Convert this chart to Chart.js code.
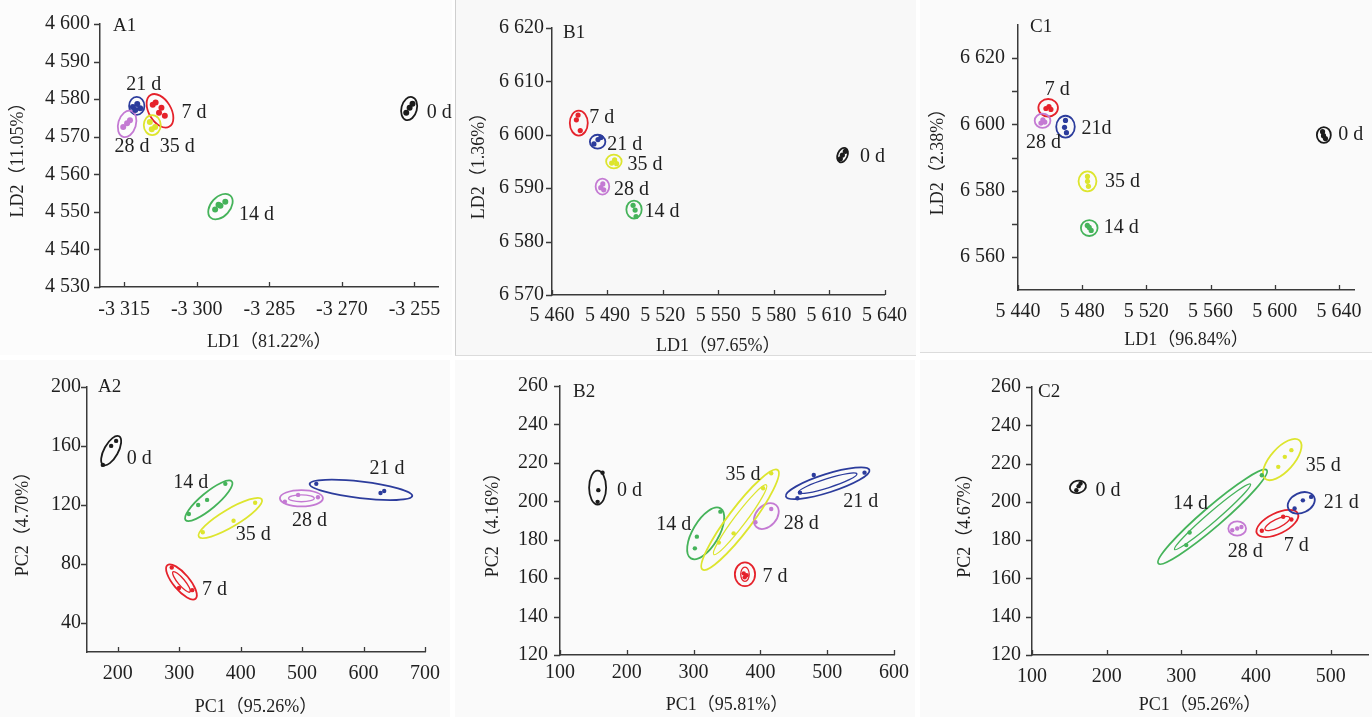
<!DOCTYPE html>
<html>
<head>
<meta charset="utf-8">
<script src="https://cdn.jsdelivr.net/npm/chart.js@4.4.0/dist/chart.umd.min.js"></script>
<style>
  html, body { margin: 0; padding: 0; background: #fff; }
  body { width: 1372px; height: 717px; position: relative; overflow: hidden; }
  .tile { position: absolute; background: #fafafa; }
  .tile canvas { display: block; }
</style>
</head>
<body>
<script>
// groups (storage days) and their colours
const groups = ['0 d', '7 d', '14 d', '21 d', '28 d', '35 d'];
const groupColors = ['#1b1b1b', '#e5222b', '#45b35a', '#2c3c9c', '#c47ad3', '#dde52e'];

// ---- A1 (LDA) ----
const a1Points = [
  [[-3256.7, 4576.4], [-3256.0, 4577.7], [-3255.4, 4578.8]],
  [[-3308.5, 4579.1], [-3307.3, 4577.7], [-3306.6, 4575.6], [-3307.8, 4576.4], [-3309.1, 4578.5]],
  [[-3296.2, 4550.6], [-3295.1, 4551.6], [-3294.1, 4552.7], [-3295.5, 4551.9]],
  [[-3313.2, 4577.9], [-3312.3, 4578.7], [-3311.7, 4577.6], [-3312.7, 4577.1]],
  [[-3315.2, 4572.6], [-3314.4, 4573.6], [-3313.8, 4574.4]],
  [[-3309.7, 4573.9], [-3308.6, 4572.6], [-3309.3, 4572.0]]
];
// ellipse: centre x, centre y, major half-axis dx, dy, minor/major ratio, inner ring factor
const a1Ellipses = [
  [-3256.1, 4577.5, 0.61, 3.06, 0.65, 0],
  [-3307.6, 4576.9, 1.95, -4.2, 0.6, 0],
  [-3295.1, 4551.4, 2.05, 2.93, 0.65, 0],
  [-3312.4, 4578.2, 0, 2.4, 0.85, 0],
  [-3314.4, 4573.4, 0.82, 3.46, 0.65, 0],
  [-3309.2, 4573.1, 0, 2.66, 0.85, 0]
];
const a1XTicks = [-3315, -3300, -3285, -3270, -3255];
const a1YTicks = [4530, 4540, 4550, 4560, 4570, 4580, 4590, 4600];

// ---- B1 (LDA) ----
const b1Points = [
  [[5616.1, 6595.5], [5617.2, 6596.2], [5618.8, 6596.9]],
  [[5474.1, 6603.7], [5473.2, 6602.8], [5475.3, 6600.8]],
  [[5503.9, 6586.8], [5505.0, 6585.9], [5505.5, 6584.7]],
  [[5482.7, 6598.3], [5484.9, 6599.1], [5486.5, 6599.5]],
  [[5486.4, 6590.1], [5487.5, 6590.8], [5488.0, 6589.7]],
  [[5492.3, 6594.7], [5493.9, 6595.3], [5495.0, 6594.6]]
];
const b1Ellipses = [
  [5617.3, 6596.2, 1.6, 1.31, 0.65, 0],
  [5474.5, 6602.2, 0, 2.34, 0.72, 0],
  [5504.4, 6586.0, 0, 1.69, 0.85, 0],
  [5484.7, 6598.7, 4.2, 0, 0.9, 0],
  [5487.3, 6590.3, 0, 1.5, 0.85, 0],
  [5493.5, 6595.0, 4.2, 0, 0.88, 0]
];
const b1XTicks = [5460, 5490, 5520, 5550, 5580, 5610, 5640];
const b1YTicks = [6570, 6580, 6590, 6600, 6610, 6620];

// ---- C1 (LDA) ----
const c1Points = [
  [[5629.8, 6597.8], [5630.4, 6596.6], [5631.6, 6595.7]],
  [[5457.4, 6604.8], [5459.3, 6605.4], [5460.5, 6604.5]],
  [[5483.2, 6569.5], [5484.4, 6568.9], [5485.6, 6568.0]],
  [[5469.6, 6601.2], [5469.0, 6599.1], [5470.2, 6597.5]],
  [[5454.3, 6600.4], [5455.5, 6601.4], [5456.7, 6600.7]],
  [[5483.3, 6584.3], [5483.3, 6582.8], [5483.9, 6581.3]]
];
const c1Ellipses = [
  [5630.6, 6596.8, 0, 2.4, 0.88, 0],
  [5458.8, 6605.0, 6.1, 0, 0.9, 0],
  [5484.4, 6568.7, 5.2, 0, 0.95, 0],
  [5469.6, 6599.3, 0, 3.3, 0.85, 0],
  [5455.3, 6601.1, 4.9, 0, 0.9, 0],
  [5483.3, 6582.8, 0, 3.0, 0.9, 0]
];
const c1XTicks = [5440, 5480, 5520, 5560, 5600, 5640];
const c1YTicks = [6560, 6570, 6580, 6590, 6600, 6610, 6620];
const c1Names = ['0 d', '7 d', '14 d', '21d', '28 d', '35 d'];

// ---- A2 (PCA) ----
const a2Points = [
  [[175.8, 147.1], [189.3, 160.0], [197.4, 163.4]],
  [[287.9, 77.4], [299.7, 63.5], [321.2, 62.0]],
  [[315.8, 113.7], [330.9, 119.9], [345.4, 123.3], [375.1, 134.2]],
  [[523.1, 134.2], [627.6, 128.0], [633.6, 129.4]],
  [[472.0, 122.1], [493.5, 126.7], [525.8, 125.1]],
  [[338.4, 101.3], [388.5, 109.2], [423.6, 121.4]]
];
const a2Ellipses = [
  [189.3, 156.8, 12.9, 9.7, 0.43, 0],
  [303.7, 67.6, 22.9, -11.4, 0.37, 0.6],
  [348.1, 122.7, 37.6, 13.1, 0.27, 0],
  [595.8, 130.1, 83.5, -4.1, 0.16, 0],
  [498.9, 124.4, 35, 0, 0.38, 0.6],
  [383.2, 111.0, 51.2, 12.7, 0.24, 0]
];
const a2XTicks = [200, 300, 400, 500, 600, 700];
const a2YTicks = [40, 80, 120, 160, 200];

// ---- B2 (PCA) ----
const b2Points = [
  [[163.7, 214.9], [157.4, 205.8], [156.3, 199.7]],
  [[375.0, 162.5], [379.4, 161.5], [376.5, 160.5]],
  [[340.1, 194.6], [304.9, 181.6], [301.9, 175.5]],
  [[455.4, 201.6], [459.3, 204.5], [479.9, 213.7], [555.9, 214.9]],
  [[392.6, 189.1], [416.2, 196.0]],
  [[337.8, 178.5], [359.9, 183.3], [404.0, 206.8], [416.2, 214.6]]
];
const b2Ellipses = [
  [156.3, 207.1, 0, 8.85, 0.5, 0],
  [376.9, 162.0, 0, 6.2, 0.85, 0.6],
  [318.1, 183.3, 22.1, 13.0, 0.45, 0],
  [500.7, 209.4, 62.5, 6.9, 0.21, 0.7],
  [408.8, 192.3, 14.7, 5.7, 0.7, 0],
  [369.6, 190.4, 56.3, 25.9, 0.19, 0.7]
];
const b2XTicks = [100, 200, 300, 400, 500, 600];
const b2YTicks = [120, 140, 160, 180, 200, 220, 240, 260];

// ---- C2 (PCA) ----
const c2Points = [
  [[159.4, 206.1], [162.4, 208.2], [165.0, 209.6]],
  [[407.8, 184.9], [436.4, 192.2], [447.4, 190.8]],
  [[306.6, 177.4], [311.1, 184.0], [407.8, 213.9]],
  [[451.7, 196.5], [462.8, 200.8], [473.8, 202.6]],
  [[368.2, 185.2], [374.8, 186.1], [380.5, 186.9]],
  [[429.8, 218.3], [438.6, 223.5], [447.4, 227.0]]
];
const c2Ellipses = [
  [161.5, 207.8, 10.6, 1.0, 0.75, 0],
  [428.6, 188.7, 27.4, 5.2, 0.45, 0.6],
  [341.8, 192.2, 72.6, 24.4, 0.14, 0.7],
  [460.6, 199.5, 17.2, 3.1, 0.7, 0],
  [374.8, 186.1, 11.9, 0, 0.8, 0],
  [435.1, 222.1, 23.1, 10.0, 0.45, 0]
];
const c2XTicks = [100, 200, 300, 400, 500];
const c2YTicks = [120, 140, 160, 180, 200, 220, 240, 260];

const SERIF = '"Liberation Serif", "Noto Sans CJK SC", serif';
const textColor = '#1f1f1f';
const axisColor = '#3a3a3a';

function fmt(v) {
  const s = String(Math.abs(v)).replace(/\B(?=(\d{3})+(?!\d))/g, ' ');
  return (v < 0 ? '-' : '') + s;
}

// draws ellipses, tick marks, group labels and the panel tag
const clusterPlugin = {
  id: 'clusters',
  beforeDatasetsDraw(chart, args, o) {
    const { ctx, scales: { x, y } } = chart;
    ctx.save();
    o.ellipses.forEach((e, i) => {
      const [cx, cy, dx, dy, ratio, inner] = e;
      const px = x.getPixelForValue(cx), py = y.getPixelForValue(cy);
      const vx = x.getPixelForValue(cx + dx) - px;
      const vy = y.getPixelForValue(cy + dy) - py;
      const a = Math.hypot(vx, vy), ang = Math.atan2(vy, vx);
      ctx.strokeStyle = groupColors[i];
      ctx.lineWidth = 1.8;
      ctx.beginPath();
      ctx.ellipse(px, py, a, a * ratio, ang, 0, Math.PI * 2);
      ctx.stroke();
      if (inner) {
        ctx.lineWidth = 1.3;
        ctx.beginPath();
        ctx.ellipse(px, py, a * inner, a * ratio * inner * 0.7, ang, 0, Math.PI * 2);
        ctx.stroke();
      }
    });
    ctx.restore();
  },
  afterDraw(chart, args, o) {
    const { ctx, chartArea: area, scales: { x, y } } = chart;
    ctx.save();
    ctx.strokeStyle = axisColor;
    ctx.lineWidth = 1.3;
    ctx.beginPath();
    y.ticks.forEach(t => {
      const py = Math.round(y.getPixelForValue(t.value)) + 0.5;
      ctx.moveTo(area.left - 6, py);
      ctx.lineTo(area.left, py);
    });
    x.ticks.forEach(t => {
      const px = Math.round(x.getPixelForValue(t.value)) + 0.5;
      ctx.moveTo(px, area.bottom);
      ctx.lineTo(px, area.bottom - 5);
    });
    ctx.stroke();

    ctx.fillStyle = textColor;
    ctx.font = '20px ' + SERIF;
    ctx.textAlign = 'center';
    ctx.textBaseline = 'middle';
    o.ellipses.forEach((e, i) => {
      const px = x.getPixelForValue(e[0]), py = y.getPixelForValue(e[1]);
      const off = o.labelOffsets[i];
      ctx.fillText(o.names[i], px + off[0], py + off[1]);
    });

    ctx.textAlign = 'left';
    ctx.font = '19px ' + SERIF;
    ctx.fillText(o.tag, area.left + o.tagPos[0], area.top + o.tagPos[1]);
    ctx.restore();
  }
};

function addPanel(p) {
  const [tl, tt, tw, th] = p.tile;
  const div = document.createElement('div');
  div.className = 'tile';
  Object.assign(div.style, { left: tl + 'px', top: tt + 'px', width: tw + 'px', height: th + 'px' });
  if (p.divStyle) Object.assign(div.style, p.divStyle);
  const canvas = document.createElement('canvas');
  canvas.width = tw;
  canvas.height = th;
  div.appendChild(canvas);
  document.body.appendChild(div);

  const datasets = p.points.map((pts, i) => ({
    label: groups[i],
    data: pts.map(([vx, vy]) => ({ x: vx, y: vy })),
    backgroundColor: groupColors[i],
    borderWidth: 0,
    pointRadius: p.pointRadius
  }));

  new Chart(canvas, {
    type: 'scatter',
    data: { datasets },
    plugins: [clusterPlugin],
    options: {
      responsive: false,
      animation: false,
      layout: { padding: { left: 0, top: p.area[1] - tt, right: tl + tw - p.area[2], bottom: 0 } },
      plugins: {
        legend: { display: false },
        tooltip: { enabled: false },
        clusters: {
          ellipses: p.ellipses,
          names: p.names || groups,
          labelOffsets: p.labelOffsets,
          tag: p.tag,
          tagPos: p.tagPos
        }
      },
      scales: {
        x: {
          type: 'linear',
          min: p.xRange[0], max: p.xRange[1],
          afterBuildTicks: s => { s.ticks = p.xTicks.map(v => ({ value: v })); },
          afterFit: s => { s.height = tt + th - p.area[3]; },
          grid: { display: false, drawTicks: false },
          border: { display: true, color: axisColor, width: 1.5 },
          ticks: {
            autoSkip: false, maxRotation: 0, minRotation: 0,
            padding: p.xPad, color: textColor,
            font: { family: SERIF, size: 20, lineHeight: 1.2 },
            callback: v => fmt(v)
          },
          title: {
            display: true, text: p.xTitle, color: textColor,
            font: { family: SERIF, size: 18, lineHeight: 1 },
            padding: { top: p.xTitlePad, bottom: p.xTitlePad }
          }
        },
        y: {
          type: 'linear',
          min: p.yRange[0], max: p.yRange[1],
          afterBuildTicks: s => { s.ticks = p.yTicks.map(v => ({ value: v })); },
          afterFit: s => { s.width = p.area[0] - tl; },
          grid: { display: false, drawTicks: false },
          border: { display: true, color: axisColor, width: 1.5 },
          ticks: {
            autoSkip: false, padding: p.yPad, color: textColor,
            font: { family: SERIF, size: 20, lineHeight: 1.2 },
            callback: v => (p.yLabelStep && v % p.yLabelStep !== 0) ? '' : fmt(v)
          },
          title: {
            display: true, text: p.yTitle, color: textColor,
            font: { family: SERIF, size: 18, lineHeight: 1 },
            padding: { top: p.yTitlePad, bottom: p.yTitlePad }
          }
        }
      }
    }
  });
}

addPanel({
  tag: 'A1', tagPos: [13, 2],
  tile: [0, 0, 452, 355], area: [100, 24, 442, 287],
  points: a1Points, ellipses: a1Ellipses, pointRadius: 3,
  xRange: [-3320, -3250], yRange: [4530, 4600], xTicks: a1XTicks, yTicks: a1YTicks,
  xTitle: 'LD1（81.22%）', yTitle: 'LD2（11.05%）',
  xPad: 11, yPad: 10, xTitlePad: 4, yTitlePad: 9,
  labelOffsets: [[30, 4], [34, 2], [36, 8], [7, -21], [5, 23], [25, 22]],
  divStyle: { background: '#fcfcfc' }
});

addPanel({
  tag: 'B1', tagPos: [11, 5],
  tile: [455, 0, 460, 355], area: [551, 28, 891, 295],
  points: b1Points, ellipses: b1Ellipses, pointRadius: 2.6,
  xRange: [5460, 5640], yRange: [6570, 6620], xTicks: b1XTicks, yTicks: b1YTicks,
  xTitle: 'LD1（97.65%）', yTitle: 'LD2（1.36%）',
  xPad: 9, yPad: 8, xTitlePad: 0, yTitlePad: 14,
  labelOffsets: [[30, 2], [23, -5], [28, 2], [27, 3], [29, 3], [31, 3]],
  divStyle: { borderLeft: '1px solid #cfcfcf', borderBottom: '1px solid #dcdcdc', background: '#f8f8f8' }
});

addPanel({
  tag: 'C1', tagPos: [12, 2],
  tile: [920, 0, 452, 352], area: [1018, 24, 1360, 290],
  points: c1Points, ellipses: c1Ellipses, pointRadius: 2.6,
  xRange: [5440, 5650], yRange: [6550, 6630], xTicks: c1XTicks, yTicks: c1YTicks, yLabelStep: 20,
  names: c1Names,
  xTitle: 'LD1（96.84%）', yTitle: 'LD2（2.38%）',
  xPad: 10, yPad: 13, xTitlePad: 3, yTitlePad: 9,
  labelOffsets: [[27, 0], [9, -18], [32, 0], [31, 2], [1, 22], [35, 0]],
  divStyle: { borderBottom: '1px solid #dcdcdc' }
});

addPanel({
  tag: 'A2', tagPos: [11, 0],
  tile: [0, 360, 450, 357], area: [87, 387, 428, 652],
  points: a2Points, ellipses: a2Ellipses, pointRadius: 2.2,
  xRange: [150, 700], yRange: [20, 200], xTicks: a2XTicks, yTicks: a2YTicks,
  xTitle: 'PC1（95.26%）', yTitle: 'PC2（4.70%）',
  xPad: 10, yPad: 6, xTitlePad: 1, yTitlePad: 14,
  labelOffsets: [[28, 8], [33, 8], [-18, -18], [26, -21], [8, 22], [23, 17]]
});

addPanel({
  tag: 'B2', tagPos: [13, 6],
  tile: [455, 360, 460, 357], area: [560, 386, 900, 655],
  points: b2Points, ellipses: b2Ellipses, pointRadius: 2.2,
  xRange: [100, 600], yRange: [120, 260], xTicks: b2XTicks, yTicks: b2YTicks,
  xTitle: 'PC1（95.81%）', yTitle: 'PC2（4.16%）',
  xPad: 6, yPad: 12, xTitlePad: 3, yTitlePad: 29,
  labelOffsets: [[32, 3], [30, 2], [-32, -9], [33, 19], [35, 8], [3, -45]]
});

addPanel({
  tag: 'C2', tagPos: [6, 5],
  tile: [920, 360, 452, 357], area: [1032, 387, 1372, 655],
  points: c2Points, ellipses: c2Ellipses, pointRadius: 2.2,
  xRange: [100, 550], yRange: [120, 260], xTicks: c2XTicks, yTicks: c2YTicks,
  xTitle: 'PC1（95.26%）', yTitle: 'PC2（4.67%）',
  xPad: 10, yPad: 11, xTitlePad: 3, yTitlePad: 36,
  labelOffsets: [[30, 4], [19, 22], [-22, -13], [40, 0], [8, 23], [41, 6]]
});
</script>
</body>
</html>
